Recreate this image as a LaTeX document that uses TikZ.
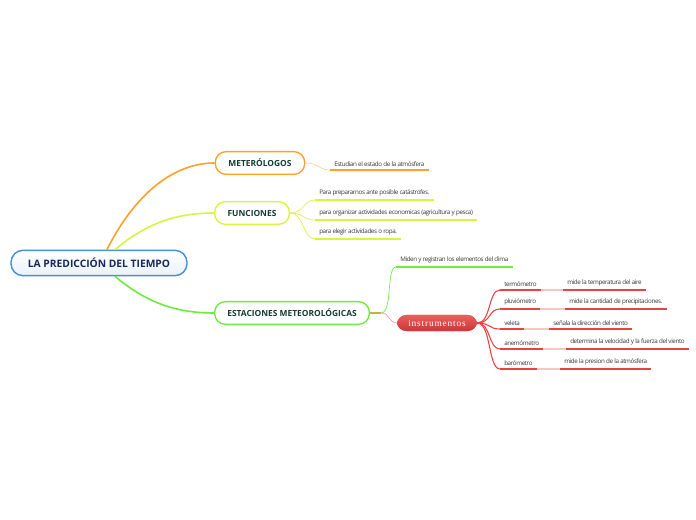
\documentclass[tikz,border=0pt]{standalone}
\usepackage{fontspec}
\setmainfont{Open Sans}
\newfontfamily\hojafont[LetterSpace=-6]{Open Sans}
\newfontfamily\instfont[LetterSpace=9]{Liberation Serif}
\usetikzlibrary{calc}

\definecolor{naranja}{RGB}{255,160,40}
\definecolor{amarillo}{RGB}{215,245,60}
\definecolor{verde}{RGB}{110,235,60}
\definecolor{rojo}{RGB}{235,65,65}
\definecolor{azul}{RGB}{70,145,210}
\definecolor{marino}{RGB}{25,40,90}
\definecolor{tinta}{RGB}{20,60,50}
\definecolor{gris}{RGB}{55,55,55}
\definecolor{ocre}{RGB}{200,170,90}

\begin{document}
\begin{tikzpicture}[x=0.75pt,y=-0.75pt,
  raiz/.style={draw=azul,line width=1.1pt,rounded corners=9pt,top color=white,bottom color=azul!12,text=marino,font=\fontsize{7.7}{9}\selectfont\bfseries,minimum width=132pt,minimum height=19pt},
  rama/.style={draw=#1,line width=1pt,rounded corners=8pt,fill=white,text=tinta,font=\fontsize{6.3}{8}\selectfont\bfseries,minimum height=17pt},
  hoja/.style={anchor=south west,text=gris,font=\hojafont\fontsize{4.7}{6}\selectfont,inner xsep=3pt,inner ysep=2.5pt},
  raya/.style={#1,line width=1.4pt},
  lazo/.style={#1,line width=0.5pt}]
  \useasboundingbox (0,0) rectangle (696,520);
  % idea central y ramas
  \node[raiz] (raiz) at (99,263) {LA PREDICCIÓN DEL TIEMPO};
  \node[rama=naranja,minimum width=67pt] (met) at (260,163) {METERÓLOGOS};
  \node[rama=amarillo,minimum width=56pt] (fun) at (252,213) {FUNCIONES};
  \node[rama=verde,minimum width=116pt] (est) at (292,313) {ESTACIONES METEOROLÓGICAS};
  \draw[naranja,line width=1.2pt] ($(raiz.north)+(8,0)$) .. controls +(25,-50) and +(-45,0) .. (met.west);
  \draw[amarillo,line width=1.2pt] ($(raiz.north)+(16,0)$) .. controls +(30,-25) and +(-40,0) .. (fun.west);
  \draw[verde,line width=1.2pt] ($(raiz.south)+(16,0)$) .. controls +(30,25) and +(-40,0) .. (est.west);
  % meteorologos
  \node[hoja] (estu) at (330,170) {Estudian el estado de la atmósfera};
  \draw[lazo=naranja!50] (met.east) .. controls +(14,0) and +(-12,0) .. (estu.south west);
  \draw[raya=naranja] (estu.south west) -- (estu.south east);
  % funciones
  \node[hoja] (f1) at (315,200) {Para prepararnos ante posible catástrofes.};
  \node[hoja] (f2) at (315,220) {para organizar actividades economicas (agricultura y pesca)};
  \node[hoja] (f3) at (315,239) {para elegir actividades o ropa.};
  \foreach \f in {f1,f2,f3}{
    \draw[lazo=amarillo] (fun.east) .. controls +(14,0) and +(-12,0) .. (\f.south west);
    \draw[raya=amarillo] (\f.south west) -- (\f.south east);
  }
  % estaciones
  \coordinate (nudo) at (381,313);
  \node[hoja] (mid) at (396,267) {Miden y registran los elementos del clima};
  \node[fill=rojo,top color=rojo!85,bottom color=rojo!85!black,rounded corners=7pt,text=white,font=\instfont\fontsize{7}{8}\selectfont,minimum width=60pt,minimum height=12pt] (ins) at (437,323) {instrumentos};
  \draw[ocre,line width=1pt] (est.east) -- (nudo);
  \draw[lazo=verde] (nudo) .. controls +(12,0) and +(-10,0) .. (mid.south west);
  \draw[raya=verde] (mid.south west) -- (mid.south east);
  \draw[lazo=rojo!50] (nudo) .. controls +(9,0) and +(-8,0) .. (ins.west);
  % instrumentos
  \foreach \n/\d/\y/\xd/\txt/\que in {
      ter/dter/290/563/termómetro/mide la temperatura del aire,
      plu/dplu/309/565/pluviómetro/mide la cantidad de precipitaciones.,
      vel/dvel/329/549/veleta/señala la dirección del viento,
      ane/dane/349/566/anemómetro/determina la velocidad y la fuerza del viento,
      bar/dbar/369/560/barómetro/mide la presion de la atmósfera}{
    \node[hoja] (\n) at (500,\y) {\txt};
    \node[hoja] (\d) at (\xd,\y) {\que};
    \draw[rojo,line width=0.8pt] (ins.east) .. controls +(14,0) and +(-12,0) .. (\n.south west);
    \draw[raya=rojo] (\n.south west) -- (\n.south east);
    \draw[raya=rojo!30] (\n.south east) -- (\d.south west);
    \draw[raya=rojo] (\d.south west) -- (\d.south east);
  }
\end{tikzpicture}
\end{document}
